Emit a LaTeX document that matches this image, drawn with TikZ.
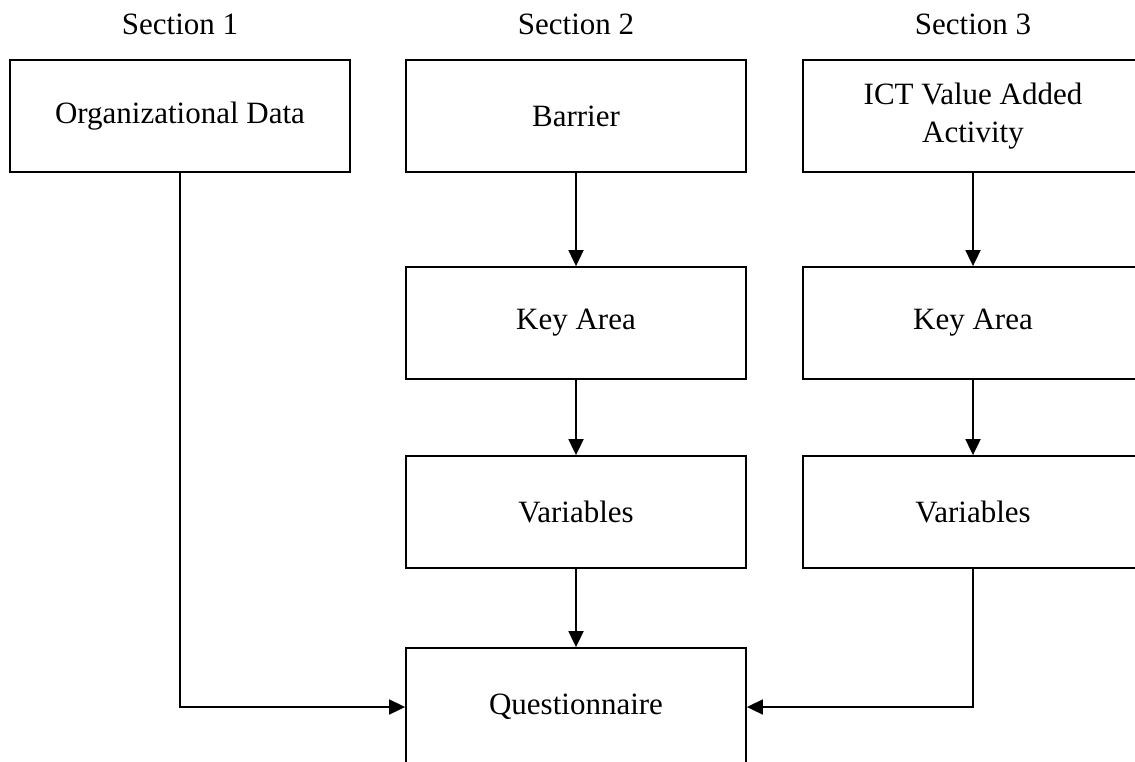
\documentclass[tikz,border=0pt]{standalone}
\usepackage{fontspec}
\setmainfont{Liberation Serif}
\usetikzlibrary{arrows.meta}
\tikzset{
  blockbox/.style={draw, line width=1.8pt, minimum width=340pt, minimum height=112pt,
    inner sep=0pt, align=center, font=\fontsize{31}{38}\selectfont},
  seclabel/.style={inner sep=0pt, font=\fontsize{31}{38}\selectfont},
  flow/.style={line width=1.8pt, -{Triangle[length=16pt,width=15pt]}}
}
\begin{document}
\begin{tikzpicture}[x=1pt,y=-1pt]
  \useasboundingbox (0,0) rectangle (1135,761);
  \clip (0,0) rectangle (1135,761);
  \fill[white] (0,0) rectangle (1135,761);

  % section headings
  \node[seclabel] (s1) at (180,24) {Section 1};
  \node[seclabel] (s2) at (576,24) {Section 2};
  \node[seclabel] (s3) at (973,24) {Section 3};

  % top row
  \node[blockbox] (orgdata) at (180,116) {Organizational Data};
  \node[blockbox] (barrier) at (576,116) {Barrier};
  \node[blockbox] (ict) at (973,116) {ICT Value Added\\Activity};

  % key areas
  \node[blockbox] (key2) at (576,323) {\raisebox{-3pt}{Key Area}};
  \node[blockbox] (key3) at (973,323) {\raisebox{-3pt}{Key Area}};

  % variables
  \node[blockbox] (var2) at (576,512) {Variables};
  \node[blockbox] (var3) at (973,512) {Variables};

  % questionnaire (runs past the lower edge)
  \node[blockbox, minimum height=118pt] (quest) at (576,707) {\raisebox{-3pt}{Questionnaire}};

  % connectors
  \draw[flow] (barrier) -- (key2);
  \draw[flow] (key2) -- (var2);
  \draw[flow] (var2) -- (quest);
  \draw[flow] (ict) -- (key3);
  \draw[flow] (key3) -- (var3);
  \draw[flow] (orgdata.south) |- (quest.west);
  \draw[flow] (var3.south) |- (quest.east);
\end{tikzpicture}
\end{document}
